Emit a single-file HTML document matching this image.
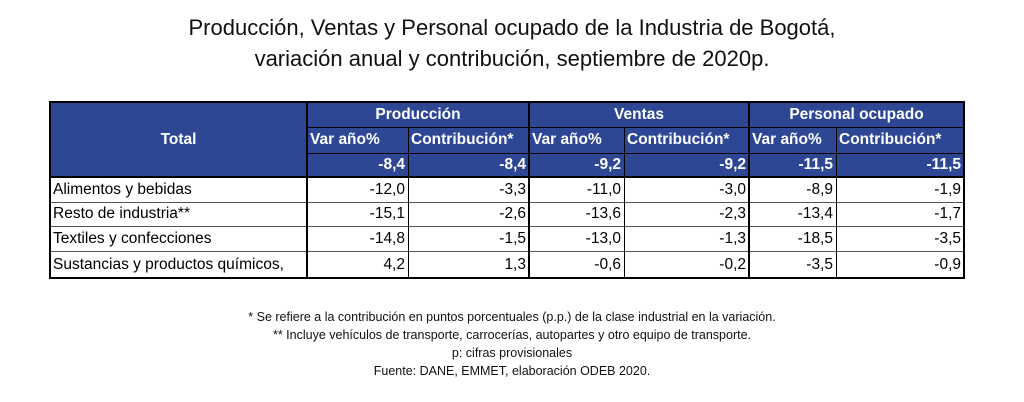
<!DOCTYPE html>
<html><head><meta charset="utf-8"><style>
body{margin:0;width:1024px;height:402px;background:#fff;font-family:"Liberation Sans",sans-serif;position:relative;overflow:hidden}
.t{position:absolute;left:0;width:1024px;text-align:center;font-size:22px;color:#111}
.c{position:absolute;box-sizing:border-box;font-size:15.5px;line-height:1;display:flex;align-items:center;white-space:nowrap;overflow:hidden}
.h{background:#2e4795;color:#fff;font-weight:bold}
.f{position:absolute;left:0;width:1024px;text-align:center;font-size:12.5px;color:#111}
.ln{position:absolute;background:#000}
</style></head><body>
<div class="t" style="top:15px">Producción, Ventas y Personal ocupado de la Industria de Bogotá,</div>
<div class="t" style="top:46px">variación anual y contribución, septiembre de 2020p.</div>
<div id="tb"></div>
<div class="f" style="top:310px">* Se refiere a la contribución en puntos porcentuales (p.p.) de la clase industrial en la variación.</div>
<div class="f" style="top:328px">** Incluye vehículos de transporte, carrocerías, autopartes y otro equipo de transporte.</div>
<div class="f" style="top:346px">p: cifras provisionales</div>
<div class="f" style="top:364px">Fuente: DANE, EMMET, elaboración ODEB 2020.</div>
<script>
var X=[50,307,408,529,624,749,836,964],Y=[102,127,153,177,202,226,251,278];
var tb=document.getElementById('tb'),h='';
function cell(x0,x1,y0,y1,txt,cls,al){h+='<div class="c '+cls+'" style="left:'+x0+'px;top:'+y0+'px;width:'+(x1-x0)+'px;height:'+(y1-y0)+'px;justify-content:'+al+';padding:0 3px">'+txt+'</div>';}
cell(X[0],X[1],Y[0],Y[3],'Total','h','center');
var g=['Producción','Ventas','Personal ocupado'];
for(var i=0;i<3;i++){cell(X[1+2*i],X[3+2*i],Y[0],Y[1],g[i],'h','center');
cell(X[1+2*i],X[2+2*i],Y[1],Y[2],'Var año%','h','flex-start');
cell(X[2+2*i],X[3+2*i],Y[1],Y[2],'Contribución*','h','flex-start');}
var tot=['-8,4','-8,4','-9,2','-9,2','-11,5','-11,5'];
for(i=0;i<6;i++)cell(X[1+i],X[2+i],Y[2],Y[3],tot[i],'h','flex-end');
var rows=[['Alimentos y bebidas','-12,0','-3,3','-11,0','-3,0','-8,9','-1,9'],
['Resto de industria**','-15,1','-2,6','-13,6','-2,3','-13,4','-1,7'],
['Textiles y confecciones','-14,8','-1,5','-13,0','-1,3','-18,5','-3,5'],
['Sustancias y productos químicos,','4,2','1,3','-0,6','-0,2','-3,5','-0,9']];
for(var r=0;r<4;r++){cell(X[0],X[1],Y[3+r],Y[4+r],rows[r][0],'','flex-start');
for(i=0;i<6;i++)cell(X[1+i],X[2+i],Y[3+r],Y[4+r],rows[r][i+1],'','flex-end');}
function L(x,y,w,hh,c){h+='<div class="ln" style="left:'+x+'px;top:'+y+'px;width:'+w+'px;height:'+hh+'px;background:'+(c||'#000')+'"></div>';}
L(X[0]-1,Y[0]-1,X[7]-X[0]+2,2);L(X[0]-1,Y[7]-1,X[7]-X[0]+2,2);L(X[0]-1,Y[3]-1,X[7]-X[0]+2,2);
for(r=4;r<7;r++)L(X[0],Y[r],X[7]-X[0],1,'#555');
L(X[1],Y[1],X[7]-X[1],1);L(X[1],Y[2],X[7]-X[1],1);
L(X[0]-1,Y[0]-1,2,Y[7]-Y[0]+2);L(X[7]-1,Y[0]-1,2,Y[7]-Y[0]+2);
L(X[1]-1,Y[0],2,Y[7]-Y[0]);L(X[3]-1,Y[0],2,Y[7]-Y[0]);L(X[5]-1,Y[0],2,Y[7]-Y[0]);
L(X[2],Y[1],1,Y[7]-Y[1]);L(X[4],Y[1],1,Y[7]-Y[1]);L(X[6],Y[1],1,Y[7]-Y[1]);
tb.innerHTML=h;
</script>
</body></html>
